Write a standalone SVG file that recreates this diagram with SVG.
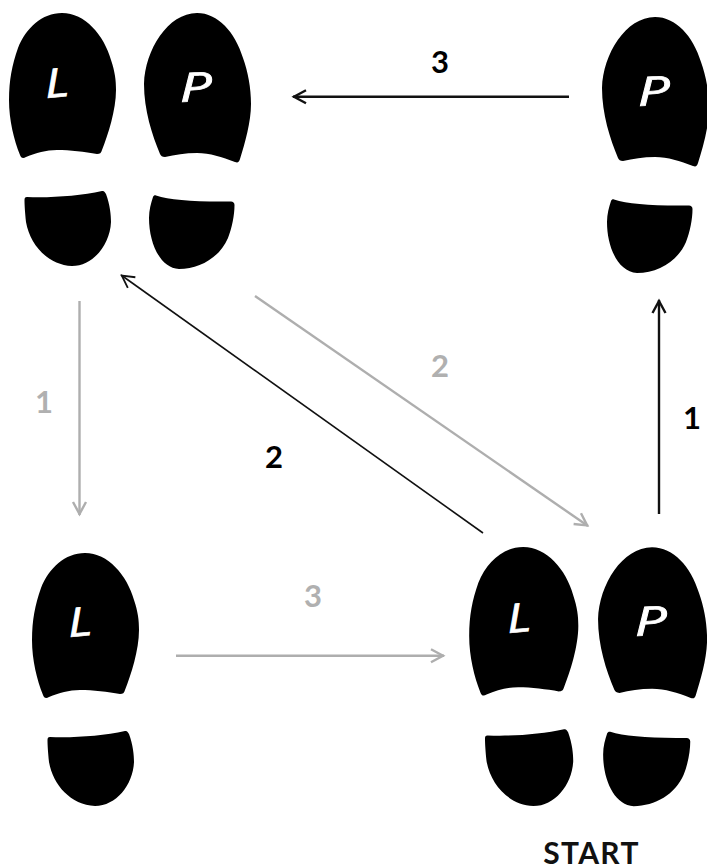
<svg xmlns="http://www.w3.org/2000/svg" width="707" height="866" viewBox="0 0 707 866">
<style>
.num{font-family:"Lato","Liberation Sans",sans-serif;font-weight:700;font-size:31px;text-anchor:middle}
.k{fill:#000}.g{fill:#b0b0b0}
.let{font-family:"Open Sans","Liberation Sans",sans-serif;font-style:italic;font-size:40px;fill:#fff;stroke:#fff;stroke-width:.7px}
.b{stroke:#111;fill:none;stroke-width:2.400}
.h{stroke:#aeaeae;fill:none;stroke-width:2.400}
.start{font-family:"Lato","Liberation Sans",sans-serif;font-weight:700;font-size:30px;letter-spacing:1.300px;fill:#111;text-anchor:middle}
</style>
<defs>
<marker id="ak" markerUnits="userSpaceOnUse" markerWidth="20" markerHeight="20" refX="16" refY="10" orient="auto"><path d="M3 3.500L15 10L3 16.500" fill="none" stroke="#111" stroke-width="2.400"/></marker>
<marker id="akt" markerUnits="userSpaceOnUse" markerWidth="20" markerHeight="20" refX="16" refY="10" orient="auto"><path d="M3 3.500L15 10L3 16.500" fill="none" stroke="#111" stroke-width="1.800"/></marker>
<marker id="ag" markerUnits="userSpaceOnUse" markerWidth="20" markerHeight="20" refX="16" refY="10" orient="auto"><path d="M3 3.500L15 10L3 16.500" fill="none" stroke="#aeaeae" stroke-width="2.400"/></marker>
<g id="shoeL"><path d="M62 13C85 13 104 35 111 60C115 72 116 80 116 90C116 110 108 135 102 150C101 153 100 154 97 154C85 152 70 150 57 150C46 150 36 153 26 157C23 159 21 158 20 155C14 140 9 120 9 100C9 80 12 65 18 48C26 28 42 13 62 13Z"/><path d="M27 197C50 198 80 196 102 191C104 190.500 105 192 106 194C110 205 111 215 111 222C110 245 93 266 72 266C48 265 30 245 26 222C25 212 24.500 205 24.500 200C24.500 198 25 197 27 197Z"/></g>
<g id="shoeP"><path d="M197 13C218 13 235 32 243 58C248 72 251 88 251 104C251 122 245 143 240 159C239 162 238 163 235 162C222 157 210 153 197 153C185 153 175 155 165 157C162 157 161 156 160 154C152 135 144 110 144 84C145 50 168 13 197 13Z"/><path d="M156 195.500C170 200 195 202 231 201.500C233 201.500 234.500 203 234.500 205C234.500 215 232 228 228 238C220 257 200 269 179 269C160 268 149 243 149 218C149 210 151 203 153 197C153.500 195.500 155 195 156 195.500Z"/></g>
</defs>
<rect width="707" height="866" fill="#fff"/>
<g id="connectors">
<path class="b" d="M569 96.700H293" marker-end="url(#ak)"/>
<path class="b" d="M659 514V300" marker-end="url(#ak)"/>
<path class="b" style="stroke-width:1.600" d="M483 533L121 275" marker-end="url(#akt)"/>
<path class="h" d="M255 296L588 526" marker-end="url(#ag)"/>
<path class="h" d="M79.500 301V515" marker-end="url(#ag)"/>
<path class="h" d="M176 655.700H444" marker-end="url(#ag)"/>
</g>
<g id="labels">
<text class="num k" x="440" y="72.500">3</text>
<text class="num g" x="44" y="412.500">1</text>
<text class="num k" x="274" y="467.500">2</text>
<text class="num g" x="440" y="377">2</text>
<text class="num k" x="692" y="429">1</text>
<text class="num g" x="313" y="607">3</text>
</g>
<g id="node-top-left-L"><use href="#shoeL"/><text class="let" transform="translate(46 98) rotate(-5) scale(1.250 1)">L</text></g>
<g id="node-top-left-P"><use href="#shoeP"/><text class="let" transform="translate(180 102) rotate(-3) scale(1.450 1)">P</text></g>
<g id="node-top-right-P"><use href="#shoeP" transform="translate(458 4)"/><text class="let" transform="translate(638 106) rotate(-3) scale(1.450 1)">P</text></g>
<g id="node-bottom-left-L"><use href="#shoeL" transform="translate(23 540)"/><text class="let" transform="translate(69 637) rotate(-5) scale(1.250 1)">L</text></g>
<g id="node-start-L"><use href="#shoeL" transform="translate(460 533.700) scale(1.020 1.024)"/><text class="let" transform="translate(508 633) rotate(-5) scale(1.250 1)">L</text></g>
<g id="node-start-P"><use href="#shoeP" transform="translate(451.300 534) scale(1.019 1.012)"/><text class="let" transform="translate(635 636) rotate(-3) scale(1.450 1)">P</text></g>
<text class="start" x="591.500" y="864">START</text>
</svg>
